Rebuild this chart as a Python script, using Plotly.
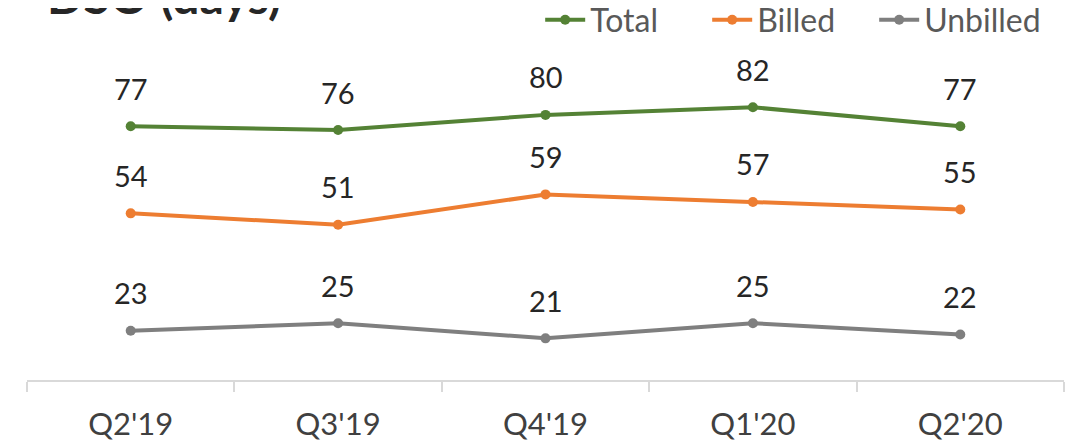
import plotly.graph_objects as go

quarters = ["Q2'19", "Q3'19", "Q4'19", "Q1'20", "Q2'20"]
total = [77, 76, 80, 82, 77]
billed = [54, 51, 59, 57, 55]
unbilled = [23, 25, 21, 25, 22]

series = [
    ("Total", total, "#548235"),
    ("Billed", billed, "#ED7D31"),
    ("Unbilled", unbilled, "#7F7F7F"),
]

FONT = "Lato"

fig = go.Figure()
for name, values, color in series:
    fig.add_trace(go.Scatter(
        x=quarters, y=values, name=name, mode="lines+markers",
        line=dict(color=color, width=4),
        marker=dict(color=color, size=10),
        hoverinfo="skip",
    ))
    # value labels sit well above each point
    for q, v in zip(quarters, values):
        fig.add_annotation(
            x=q, y=v, text=str(v), showarrow=False, yshift=38,
            font=dict(family=FONT, size=29, color="#262626"),
        )

fig.add_annotation(
    text="<b>DSO (days)</b>", xref="paper", yref="paper",
    x=0.0174, y=1.167, xanchor="left", yanchor="bottom", showarrow=False,
    font=dict(family=FONT, size=48, color="#262626"),
)

fig.update_xaxes(
    range=[-0.5, 4.5],
    showline=True, linecolor="#D9D9D9", linewidth=2,
    ticks="outside", tickson="boundaries", ticklen=10, tickwidth=2,
    tickcolor="#D9D9D9", showgrid=False, ticklabelstandoff=16,
    tickfont=dict(family=FONT, size=31, color="#404040"),
)
fig.update_yaxes(visible=False, range=[10, 90])

# page body adds an 8px offset, so margins are trimmed to compensate
fig.update_layout(
    width=1074, height=442,
    margin=dict(l=19, r=18, t=69, b=70, autoexpand=False),
    plot_bgcolor="white", paper_bgcolor="white",
    showlegend=True,
    legend=dict(
        orientation="h", x=0.978, xanchor="right", y=1.188, yanchor="middle",
        font=dict(family=FONT, size=32, color="#595959"),
        itemwidth=40, entrywidth=112, bgcolor="rgba(0,0,0,0)",
    ),
)

fig.write_html("out.html")
